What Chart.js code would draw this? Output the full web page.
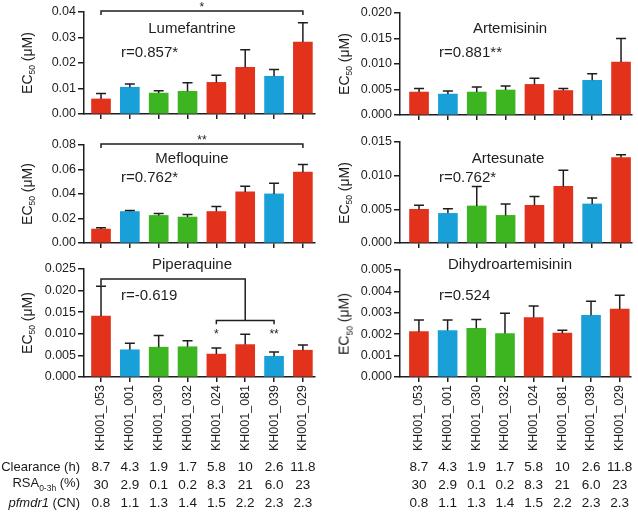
<!DOCTYPE HTML>
<html>
<head>
  <meta charset="utf-8">
  <title>EC50</title>
  <script src="https://cdn.jsdelivr.net/npm/chart.js"></script>
  <style>
    body { margin: 0; background: #fff; font-family: "Liberation Sans", Arial, sans-serif; color: #1a1a1a; }
    #wrap { position: relative; width: 638px; height: 512px; overflow: hidden; }
    canvas { position: absolute; left: 0; top: 0; }
    .ytitle { position: absolute; transform: translate(-50%, -50%) rotate(-90deg); font-size: 14px; white-space: nowrap; }
    .ytitle sub, .rowlab sub { font-size: 8.5px; }
    .cell { position: absolute; font-size: 13.5px; transform: translate(-50%, -50%); white-space: nowrap; }
    .rowlab { position: absolute; font-size: 13px; transform: translateY(-50%); right: 558px; white-space: nowrap; }
  </style>
</head>
<body>
  <div id="wrap"></div>

  <script type="text/javascript">
    var strains = ["KH001_053", "KH001_001", "KH001_030", "KH001_032", "KH001_024", "KH001_081", "KH001_039", "KH001_029"];
    var red = '#e2321c', blue = '#1aa0d8', green = '#3db521';
    var barColors = [red, blue, green, green, red, red, blue, red];

    // EC50 means and upper error (uM)
    var lumefantrine    = [0.0059, 0.0105, 0.0082, 0.0089, 0.0124, 0.0183, 0.0148, 0.0282];
    var lumefantrineErr = [0.0021, 0.0013, 0.0009, 0.0034, 0.0028, 0.0069, 0.0027, 0.0076];
    var mefloquine      = [0.0114, 0.0257, 0.0225, 0.0212, 0.0257, 0.0417, 0.0401, 0.0578];
    var mefloquineErr   = [0.0011, 0.0008, 0.0016, 0.0021, 0.0041, 0.0047, 0.0087, 0.0062];
    var piperaquine     = [0.0141, 0.0063, 0.0069, 0.0070, 0.0053, 0.0075, 0.0048, 0.0062];
    var piperaquineErr  = [0.0069, 0.0015, 0.0027, 0.0014, 0.0014, 0.0024, 0.0010, 0.0012];
    var artemisinin     = [0.0045, 0.0041, 0.0045, 0.0049, 0.0060, 0.0048, 0.0068, 0.0104];
    var artemisininErr  = [0.0007, 0.0006, 0.0010, 0.0008, 0.0012, 0.0004, 0.0013, 0.0046];
    var artesunate      = [0.0050, 0.0044, 0.0055, 0.0041, 0.0056, 0.0084, 0.0058, 0.0127];
    var artesunateErr   = [0.0006, 0.0007, 0.0029, 0.0017, 0.0013, 0.0024, 0.0009, 0.0004];
    var dha             = [0.00212, 0.00217, 0.00228, 0.00203, 0.00278, 0.00205, 0.00288, 0.00317];
    var dhaErr          = [0.00054, 0.00049, 0.00041, 0.00095, 0.00054, 0.00013, 0.00066, 0.00065];

    // table under the charts
    var clearance = ["8.7", "4.3", "1.9", "1.7", "5.8", "10", "2.6", "11.8"];
    var rsa       = ["30", "2.9", "0.1", "0.2", "8.3", "21", "6.0", "23"];
    var pfmdr1    = ["0.8", "1.1", "1.3", "1.4", "1.5", "2.2", "2.3", "2.3"];

    var ink = '#1e1e1e';
    var YW = 60, XH = 80;

    var panels = [
      { name: 'Lumefantrine', r: 'r=0.857*', values: lumefantrine, err: lumefantrineErr,
        max: 0.04, step: 0.01, dec: 2, area: [84, 12, 315, 114], xr: [-0.59, 7.42],
        title: [192, 29], rpos: [121, 53], labels: false,
        brackets: [{ x0: 0, x1: 7, y: 0.0404, d0: 0.0388, d1: 0.0388 }],
        stars: [{ x: 3.5, y: 0.0418, t: '*' }] },
      { name: 'Mefloquine', r: 'r=0.762*', values: mefloquine, err: mefloquineErr,
        max: 0.08, step: 0.02, dec: 2, area: [84, 145, 315, 243], xr: [-0.59, 7.42],
        title: [192, 159], rpos: [121, 178], labels: false,
        brackets: [{ x0: 0, x1: 7, y: 0.0808, d0: 0.0776, d1: 0.0776 }],
        stars: [{ x: 3.5, y: 0.0835, t: '**' }] },
      { name: 'Piperaquine', r: 'r=-0.619', values: piperaquine, err: piperaquineErr,
        max: 0.025, step: 0.005, dec: 3, area: [84, 269, 315, 377], xr: [-0.59, 7.42],
        title: [192, 265], rpos: [121, 296], labels: true,
        brackets: [{ x0: 0, x1: 5, y: 0.0227, d0: 0.0211, d1: 0.0131 },
                   { x0: 4, x1: 6, y: 0.0131, d0: 0.0122, d1: 0.0122 }],
        stars: [{ x: 4, y: 0.0098, t: '*' }, { x: 6, y: 0.0098, t: '**' }] },
      { name: 'Artemisinin', r: 'r=0.881**', values: artemisinin, err: artemisininErr,
        max: 0.02, step: 0.005, dec: 3, area: [400, 13, 632, 115], xr: [-0.66, 7.38],
        title: [510, 29], rpos: [439, 53], labels: false, brackets: [], stars: [] },
      { name: 'Artesunate', r: 'r=0.762*', values: artesunate, err: artesunateErr,
        max: 0.015, step: 0.005, dec: 3, area: [400, 142, 632, 243], xr: [-0.66, 7.38],
        title: [508, 159], rpos: [439, 178], labels: false, brackets: [], stars: [] },
      { name: 'Dihydroartemisinin', r: 'r=0.524', values: dha, err: dhaErr,
        max: 0.005, step: 0.001, dec: 3, area: [400, 270, 632, 377], xr: [-0.66, 7.38],
        title: [510, 265], rpos: [439, 296], labels: true, brackets: [], stars: [] },
    ];

    var wrap = document.getElementById('wrap');
    var charts = [];

    panels.forEach(function (p) {
      var cv = document.createElement('canvas');
      cv.width = 638; cv.height = 512;
      wrap.appendChild(cv);

      var extras = {
        id: 'extras',
        afterDatasetsDraw: function (chart) {
          var c = chart.ctx, xs = chart.scales.x, ys = chart.scales.y;
          c.save();
          c.strokeStyle = ink;
          c.lineWidth = 1.5;
          // error bars (upper half only)
          p.values.forEach(function (v, i) {
            var px = xs.getPixelForValue(i);
            var y0 = ys.getPixelForValue(v);
            var y1 = ys.getPixelForValue(v + p.err[i]);
            c.beginPath();
            c.moveTo(px, y0); c.lineTo(px, y1);
            c.moveTo(px - 5, y1); c.lineTo(px + 5, y1);
            c.stroke();
          });
          // significance brackets
          p.brackets.forEach(function (b) {
            var xa = xs.getPixelForValue(b.x0), xb = xs.getPixelForValue(b.x1);
            var yy = ys.getPixelForValue(b.y);
            c.beginPath();
            c.moveTo(xa, ys.getPixelForValue(b.d0));
            c.lineTo(xa, yy); c.lineTo(xb, yy);
            c.lineTo(xb, ys.getPixelForValue(b.d1));
            c.stroke();
          });
          c.fillStyle = ink;
          c.textAlign = 'center';
          c.textBaseline = 'middle';
          c.font = '12px "Liberation Sans", Arial, sans-serif';
          p.stars.forEach(function (s) {
            c.fillText(s.t, xs.getPixelForValue(s.x), ys.getPixelForValue(s.y));
          });
          c.font = '15px "Liberation Sans", Arial, sans-serif';
          c.fillText(p.name, p.title[0], p.title[1]);
          c.textAlign = 'left';
          c.fillText(p.r, p.rpos[0], p.rpos[1]);
          c.restore();
        }
      };

      var ch = new Chart(cv, {
        type: 'bar',
        data: {
          datasets: [{
            data: p.values.map(function (v, i) { return { x: i, y: v }; }),
            backgroundColor: barColors,
            barThickness: 19,
            borderWidth: 0
          }]
        },
        options: {
          responsive: false,
          animation: false,
          devicePixelRatio: 1,
          events: [],
          layout: {
            padding: {
              left: p.area[0] - YW,
              top: p.area[1],
              right: 638 - p.area[2],
              bottom: 512 - p.area[3] - XH
            }
          },
          plugins: { legend: { display: false }, tooltip: { enabled: false } },
          scales: {
            x: {
              type: 'linear',
              offset: false,
              min: p.xr[0], max: p.xr[1],
              afterBuildTicks: function (s) { s.ticks = strains.map(function (_, i) { return { value: i }; }); },
              afterFit: function (s) { s.height = XH; },
              ticks: {
                display: p.labels, autoSkip: false, minRotation: 90, maxRotation: 90,
                padding: 3, color: ink,
                font: { family: '"Liberation Sans", Arial, sans-serif', size: 12.5 },
                callback: function (v) { return strains[v]; }
              },
              grid: { offset: false, drawOnChartArea: false, tickLength: 5, color: ink, lineWidth: 1.5 },
              border: { color: ink, width: 1.5 }
            },
            y: {
              min: 0, max: p.max,
              afterFit: function (s) { s.width = YW; },
              ticks: {
                stepSize: p.step, padding: 2, color: ink,
                font: { family: '"Liberation Sans", Arial, sans-serif', size: 12.5 },
                callback: function (v) { return v.toFixed(p.dec); }
              },
              grid: { drawOnChartArea: false, tickLength: 6, color: ink, lineWidth: 1.5 },
              border: { color: ink, width: 1.5 }
            }
          }
        },
        plugins: [extras]
      });
      charts.push(ch);

      var yt = document.createElement('div');
      yt.className = 'ytitle';
      yt.innerHTML = 'EC<sub>50</sub> (\u03bcM)';
      yt.style.left = (p.area[0] < 200 ? 28 : 345) + 'px';
      yt.style.top = ((p.area[1] + p.area[3]) / 2) + 'px';
      wrap.appendChild(yt);
    });

    // table rows, placed under the bar centres of the bottom charts
    var rows = [
      { label: 'Clearance (h)', vals: clearance, y: 466 },
      { label: 'RSA<sub>0-3h</sub> (%)', vals: rsa, y: 484 },
      { label: '<i>pfmdr1</i> (CN)', vals: pfmdr1, y: 502 }
    ];
    rows.forEach(function (row) {
      var lab = document.createElement('div');
      lab.className = 'rowlab';
      lab.innerHTML = row.label;
      lab.style.top = row.y + 'px';
      wrap.appendChild(lab);
      [charts[2], charts[5]].forEach(function (ch) {
        row.vals.forEach(function (t, i) {
          var d = document.createElement('div');
          d.className = 'cell';
          d.textContent = t;
          d.style.left = ch.scales.x.getPixelForValue(i) + 'px';
          d.style.top = row.y + 'px';
          wrap.appendChild(d);
        });
      });
    });
  </script>
</body>
</html>
